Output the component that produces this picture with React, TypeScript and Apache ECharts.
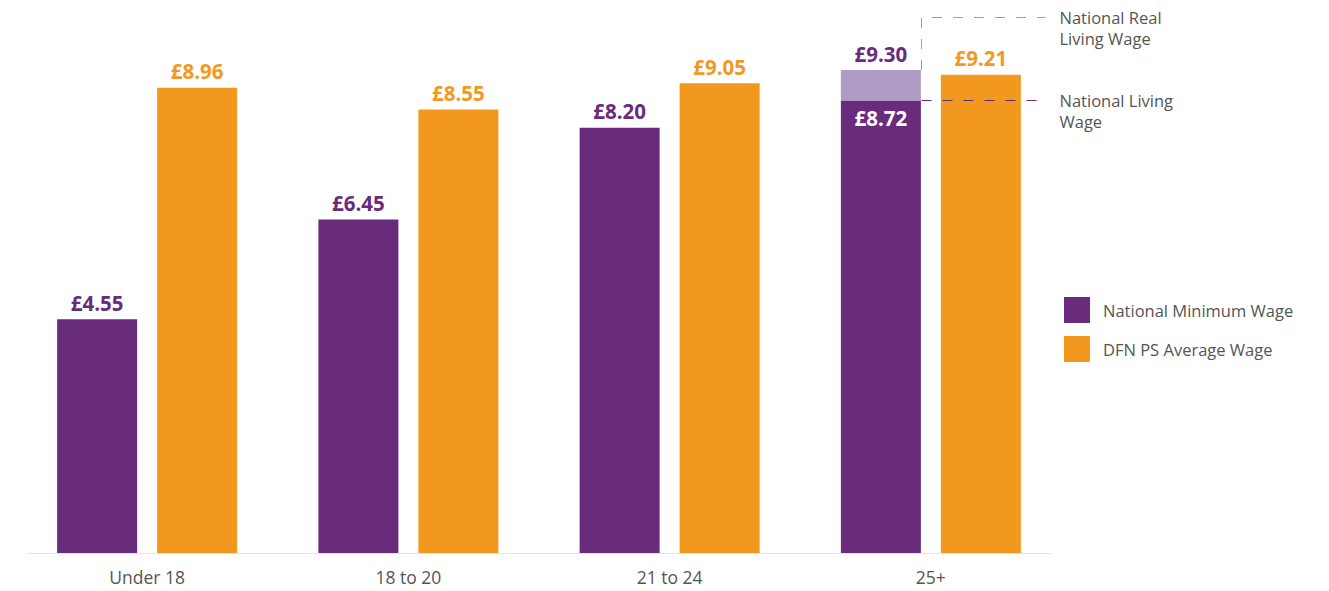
import React, { useEffect, useRef } from "react";
import * as echarts from "echarts";

const categories = ["Under 18", "18 to 20", "21 to 24", "25+"];
const minimumWage = [4.55, 6.45, 8.2, 8.72];
const realLivingGap = [null, null, null, 0.58];
const realLivingTotal = 9.3;
const averageWage = [8.96, 8.55, 9.05, 9.21];
const annotationLabels = ["National Real\nLiving Wage", "National Living\nWage"];

const PURPLE = "#692b7c";
const LIGHT_PURPLE = "#ae9cc5";
const DASH_LIGHT = "#a894cc";
const ORANGE = "#f3981f";
const FONT = "'Open Sans', 'Noto Sans', sans-serif";
const LABEL_SIZE = 20.5;

export default function App() {
  const ref = useRef<HTMLDivElement>(null);
  useEffect(() => {
    document.body.style.margin = "0";
    const chart = echarts.init(ref.current!, null, { renderer: "svg" });
    const fmt = (v: number) => "£" + v.toFixed(2);
    const topLabel = (color: string) => ({
      show: true,
      position: "top",
      distance: 6,
      color,
      fontSize: LABEL_SIZE,
      fontWeight: "bold",
      fontFamily: FONT,
    });
    chart.setOption({
      animation: false,
      textStyle: { fontFamily: FONT },
      grid: { left: 16.5, width: 1045, top: 33.3, height: 520, containLabel: false },
      legend: {
        orient: "vertical",
        left: 1064,
        top: 297,
        padding: 0,
        itemWidth: 26,
        itemHeight: 26,
        itemGap: 13,
        icon: "rect",
        data: ["National Minimum Wage", "DFN PS Average Wage"],
        textStyle: { fontSize: 16.5, color: "#555", fontFamily: FONT, padding: [0, 0, 0, 8] },
      },
      xAxis: {
        type: "category",
        data: categories,
        axisLine: { show: false },
        axisTick: { show: false },
        axisLabel: { fontSize: 17.5, color: "#555", margin: 15, fontFamily: FONT },
      },
      yAxis: {
        type: "value",
        min: 0.09,
        max: 10,
        show: false,
        splitLine: { show: false },
      },
      series: [
        {
          name: "National Minimum Wage",
          type: "bar",
          stack: "nmw",
          barWidth: 80,
          barGap: "25%",
          clip: true,
          itemStyle: { color: PURPLE },
          data: minimumWage.map((v, i) =>
            i === minimumWage.length - 1
              ? {
                  value: v,
                  label: {
                    show: true,
                    position: "insideTop",
                    distance: 7,
                    color: "#fff",
                    fontSize: LABEL_SIZE,
                    fontWeight: "bold",
                    fontFamily: FONT,
                    formatter: () => fmt(v),
                  },
                }
              : v
          ),
          label: { ...topLabel(PURPLE), formatter: (p: any) => fmt(p.value) },
        },
        {
          name: "National Real Living Wage",
          type: "bar",
          stack: "nmw",
          barWidth: 80,
          clip: true,
          itemStyle: { color: LIGHT_PURPLE },
          data: realLivingGap,
          label: { ...topLabel(PURPLE), formatter: () => fmt(realLivingTotal) },
        },
        {
          name: "DFN PS Average Wage",
          type: "bar",
          barWidth: 80,
          barGap: "25%",
          clip: true,
          itemStyle: { color: ORANGE },
          data: averageWage,
          label: { ...topLabel(ORANGE), formatter: (p: any) => fmt(p.value) },
        },
      ],
    });

    const toPx = (cat: string, v: number) =>
      chart.convertToPixel({ xAxisIndex: 0, yAxisIndex: 0 }, [cat, v]) as number[];
    const last = categories[categories.length - 1];
    const [cx, yLivingRaw] = toPx(last, minimumWage[3]);
    const [, yReal] = toPx(last, realLivingTotal);
    const [, yTopRaw] = toPx(last, 10.31);
    const [cxFirst, yBaseRaw] = toPx(categories[0], 0.09);
    const yLiving = Math.round(yLivingRaw) + 0.5;
    const yTopLine = Math.round(yTopRaw) + 0.5;
    const yBase = Math.round(yBaseRaw) + 0.5;
    const edge = Math.round(cx - 10) + 0.5;
    const lineEnd = edge + 124;
    const textX = edge + 138;
    chart.setOption({
      graphic: [
        {
          type: "line",
          shape: { x1: Math.round(cxFirst - 120), y1: yBase, x2: Math.round(cx + 120), y2: yBase },
          style: { stroke: "#e3e3e3", lineWidth: 1 },
          silent: true,
          z: 10,
        },
        {
          type: "polyline",
          shape: { points: [[edge, yReal], [edge, yTopLine], [lineEnd, yTopLine]] },
          style: { stroke: DASH_LIGHT, lineWidth: 1, lineDash: [10, 11], fill: null },
          silent: true,
        },
        {
          type: "line",
          shape: { x1: edge, y1: yLiving, x2: lineEnd, y2: yLiving },
          style: { stroke: PURPLE, lineWidth: 1, lineDash: [10, 11] },
          silent: true,
          z: 10,
        },
        {
          type: "text",
          x: textX,
          y: yTopLine - 11,
          style: { text: annotationLabels[0], fontSize: 16.5, fill: "#555", lineHeight: 21, fontFamily: FONT },
        },
        {
          type: "text",
          x: textX,
          y: yLiving - 11,
          style: { text: annotationLabels[1], fontSize: 16.5, fill: "#555", lineHeight: 21, fontFamily: FONT },
        },
      ],
    });

    return () => chart.dispose();
  }, []);
  return <div ref={ref} style={{ width: 1329, height: 591 }} />;
}
